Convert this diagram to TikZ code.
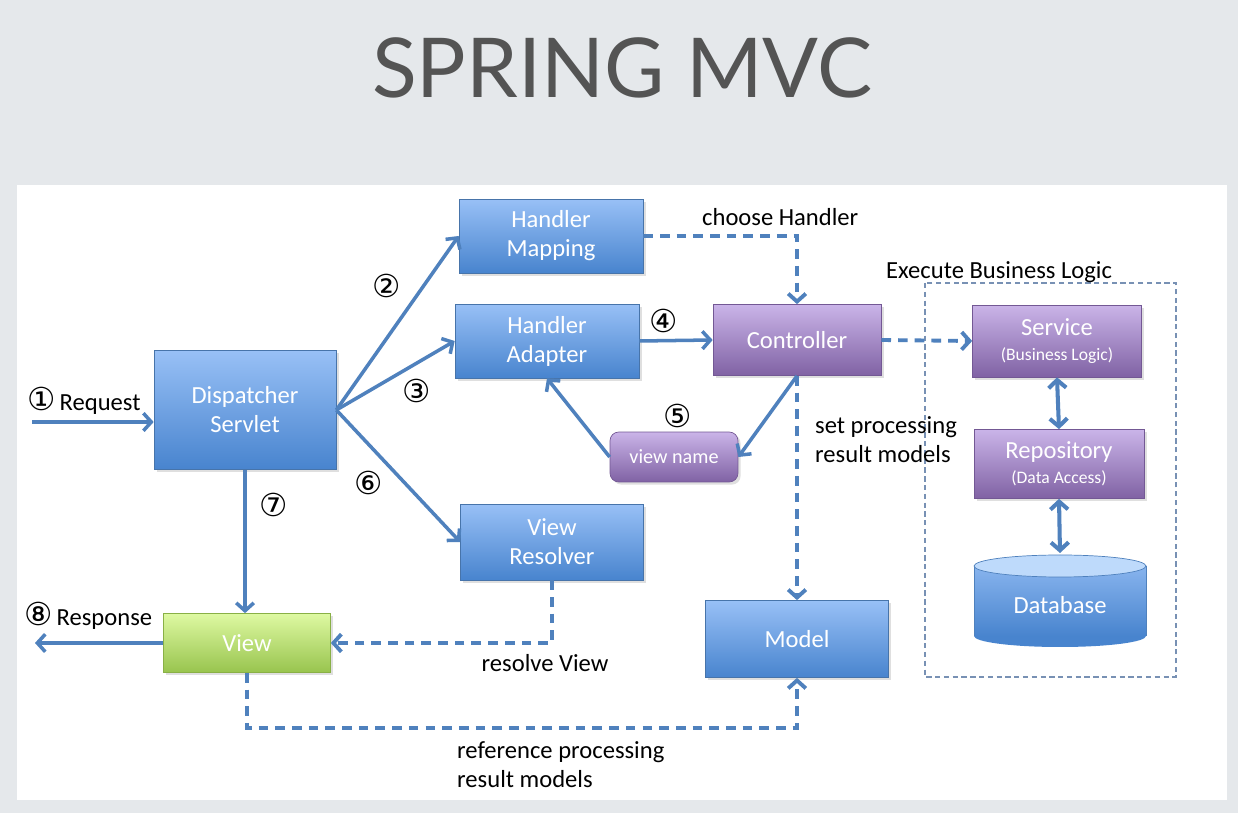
\documentclass[tikz,border=0pt]{standalone}
\usepackage{fontspec}
\setmainfont{Carlito}
\newfontfamily\circfont{DejaVu Sans}
\newfontfamily\titlefont{Lato}
\usetikzlibrary{arrows.meta,shadows}
\definecolor{arrowc}{RGB}{79,129,189}
\definecolor{bgc}{RGB}{229,232,235}
\definecolor{blTop}{RGB}{152,192,246}
\definecolor{blBot}{RGB}{72,132,206}
\definecolor{puTop}{RGB}{202,180,232}
\definecolor{puBot}{RGB}{128,98,164}
\definecolor{grTop}{RGB}{222,249,162}
\definecolor{grBot}{RGB}{152,196,78}
\definecolor{dbTop}{RGB}{190,218,251}
\definecolor{frame}{RGB}{120,145,180}
\newcommand{\circn}[1]{{\fontsize{18}{18}\selectfont\circfont #1}}
\tikzset{
  blbox/.style={rectangle, draw=arrowc!90!black, top color=blTop, bottom color=blBot,
    text=white, align=center, font=\fontsize{14}{16.5}\selectfont,
    drop shadow={opacity=0.25,shadow xshift=1.5pt,shadow yshift=-1.5pt}},
  pubox/.style={blbox, draw=puBot!90!black, top color=puTop, bottom color=puBot},
  grbox/.style={blbox, draw=grBot!90!black, top color=grTop, bottom color=grBot},
  lbl/.style={font=\fontsize{14}{16.5}\selectfont, align=left},
  num/.style={font=\fontsize{18}{18}\selectfont\circfont},
  arr/.style={->, draw=arrowc, line width=2pt},
  darr/.style={arr, line width=2.2pt, dash pattern=on 5.5pt off 4pt},
  biarr/.style={<->, draw=arrowc, line width=2.3pt}
}
\begin{document}
\begin{tikzpicture}[x=0.02cm,y=-0.02cm,>={Straight Barb[length=4.5pt,width=10pt]}]
  \useasboundingbox (0,0) rectangle (1238,813);
  \fill[bgc] (0,0) rectangle (1238,813);
  \fill[white] (17,185) rectangle (1227,800);
  % title
  \node[text=black!67, font=\fontsize{47}{54}\selectfont\titlefont] (title) at (622,68) {SPRING MVC};

  % business logic frame
  \draw[frame, densely dashed, line width=0.6pt] (925,283) rectangle (1176,677);
  \node[lbl, anchor=west] (exec) at (880,272) {Execute Business Logic};

  % boxes
  \node[blbox, minimum width=3.64cm, minimum height=2.38cm] (ds) at (245,410) {Dispatcher\\Servlet};
  \node[blbox, minimum width=3.68cm, minimum height=1.48cm] (hm) at (551,236) {Handler\\Mapping};
  \node[blbox, minimum width=3.68cm, minimum height=1.48cm] (ha) at (547,341) {Handler\\Adapter};
  \node[pubox, minimum width=3.36cm, minimum height=1.42cm] (ctrl) at (797,340) {Controller};
  \node[pubox, rounded corners=5pt, minimum width=2.56cm, minimum height=1cm,
    font=\fontsize{11.5}{13}\selectfont] (vn) at (674,457) {view name};
  \node[blbox, minimum width=3.66cm, minimum height=1.52cm] (vr) at (552,542) {View\\Resolver};
  \node[grbox, minimum width=3.34cm, minimum height=1.18cm] (view) at (247,643) {View};
  \node[blbox, minimum width=3.66cm, minimum height=1.54cm] (model) at (797,639) {Model};
  \node[pubox, minimum width=3.38cm, minimum height=1.44cm] (svc) at (1057,341)
    {Service\\[-2pt]{\fontsize{10}{11}\selectfont(Business Logic)}};
  \node[pubox, minimum width=3.4cm, minimum height=1.38cm] (repo) at (1059,464)
    {Repository\\[-2pt]{\fontsize{10}{11}\selectfont(Data Access)}};

  % database cylinder
  \fill[blBot] (1060,636) ellipse [x radius=86, y radius=11];
  \shade[top color=blTop!80!blBot, bottom color=blBot] (974,566) rectangle (1146,636);
  \draw[arrowc] (974,566) -- (974,636) (1146,566) -- (1146,636);
  \filldraw[fill=dbTop, draw=arrowc] (1060,566) ellipse [x radius=86, y radius=11];
  \node[text=white, font=\fontsize{14}{16.5}\selectfont] (db) at (1060,605) {Database};
  \coordinate (dbtop) at (1060,553);

  % free ends
  \coordinate (reqstart) at (32,422);
  \coordinate (respend) at (35,645);
  \coordinate (refbase) at (0,728);

  % connectors
  \draw[arr] (reqstart) -- (reqstart -| ds.west);
  \draw[arr] (ds.east) -- (hm.west);
  \draw[arr] (ds.east) -- (ha.west);
  \draw[arr] (ds.east) -- (vr.west);
  \draw[arr] (ds.south) -- (ds.south |- view.north);
  \draw[arr] (view.west) -- (view.west -| respend);
  \draw[arr] (ha.east) -- (ctrl.west);
  \draw[arr] (ctrl.south) -- (vn.east);
  \draw[arr] (vn.west) -- (ha.south);
  \draw[darr] (hm.east) -| (ctrl.north);
  \draw[darr] (ctrl.south) -- (model.north);
  \draw[darr] (ctrl.east) -- (svc.west);
  \draw[darr] (vr.south) |- (view.east);
  \draw[darr] (view.south) -- (view.south |- refbase) -| (model.south);
  \draw[biarr] (svc.south) -- (repo.north);
  \draw[biarr] (repo.south) -- (dbtop);

  % labels
  \node[lbl, anchor=west] (lreq) at (21,401) {\circn{①}\,Request};
  \node[lbl, anchor=west] (lresp) at (18,616) {\circn{⑧}\,Response};
  \node[num] (n2) at (387,286) {②};
  \node[num] (n3) at (417,391) {③};
  \node[num] (n4) at (664,321) {④};
  \node[num] (n5) at (678,416) {⑤};
  \node[num] (n6) at (369,483) {⑥};
  \node[num] (n7) at (274,505) {⑦};
  \node[lbl, anchor=west] (lchoose) at (696,217) {choose Handler};
  \node[lbl, anchor=west] (lset) at (809,440) {set processing\\result models};
  \node[lbl] (lresolve) at (545,663) {resolve View};
  \node[lbl, anchor=west] (lref) at (451,765) {reference processing\\result models};
\end{tikzpicture}
\end{document}
